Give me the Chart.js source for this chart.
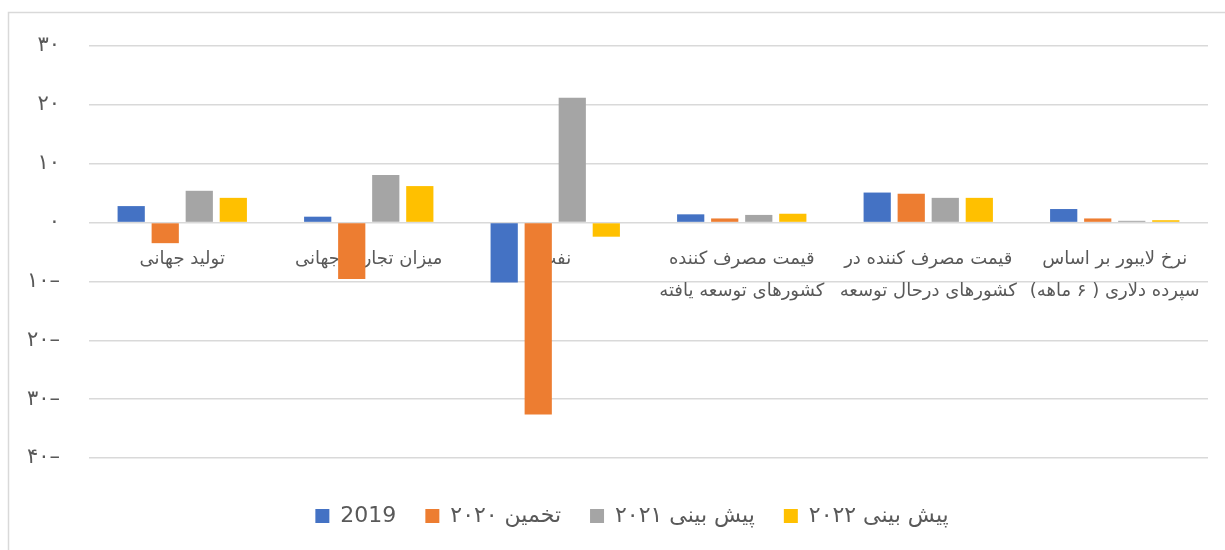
<!DOCTYPE html>
<html>
<head>
<meta charset="utf-8">
<script src="https://cdn.jsdelivr.net/npm/chart.js@4.4.1/dist/chart.umd.min.js"></script>
<style>
  html, body { margin: 0; padding: 0; background: #fff; }
  #wrap { width: 1225px; height: 550px; }
  #chart { direction: rtl; }
</style>
</head>
<body>
<div id="wrap"><canvas id="chart" width="1225" height="550"></canvas></div>
<script>
const categories = [
    'تولید جهانی',
    'میزان تجارت جهانی',
    'نفت',
    ['قیمت مصرف کننده', 'کشورهای توسعه یافته'],
    ['قیمت مصرف کننده در', 'کشورهای درحال توسعه'],
    ['نرخ لایبور بر اساس', 'سپرده دلاری ( ۶ ماهه)']
];
const seriesNames = ['2019', 'تخمین ۲۰۲۰', 'پیش بینی ۲۰۲۱', 'پیش بینی ۲۰۲۲'];
const values2019 = [2.8, 1.0, -10.2, 1.4, 5.1, 2.3];
const values2020 = [-3.5, -9.6, -32.6, 0.7, 4.9, 0.7];
const values2021 = [5.4, 8.1, 21.2, 1.3, 4.2, 0.3];
const values2022 = [4.2, 6.2, -2.4, 1.5, 4.2, 0.4];
const yTicks = [30, 20, 10, 0, -10, -20, -30, -40];

const colors = ['#4472C4', '#ED7D31', '#A5A5A5', '#FFC000'];
const textColor = '#595959';
const fontFamily = '"DejaVu Sans", sans-serif';

// persian digits; canvas is rtl so the minus ends up on the right
function toFa(n) {
    const d = '۰۱۲۳۴۵۶۷۸۹';
    const s = String(Math.abs(n)).replace(/[0-9]/g, c => d[c]);
    return n < 0 ? '–' + s : s;
}

const frame = {
    id: 'frame',
    afterLayout(chart) {
        // legend is centred on the plot, not on the whole canvas
        chart.legend.left += 56;
    },
    beforeDraw(chart) {
        const ctx = chart.ctx;
        ctx.save();
        ctx.fillStyle = '#fff';
        ctx.fillRect(0, 0, chart.width, chart.height);
        ctx.strokeStyle = '#d9d9d9';
        ctx.lineWidth = 1.5;
        ctx.strokeRect(8.5, 12.5, chart.width + 20, chart.height + 20);
        ctx.restore();
    }
};

const allValues = [values2019, values2020, values2021, values2022];

new Chart(document.getElementById('chart'), {
    type: 'bar',
    data: {
        labels: categories,
        datasets: seriesNames.map((name, i) => ({
            label: name,
            data: allValues[i],
            backgroundColor: colors[i],
            borderWidth: 0,
            categoryPercentage: 0.73,
            barPercentage: 0.8
        }))
    },
    options: {
        responsive: false,
        animation: false,
        layout: { padding: { top: 46, right: 17, left: 0, bottom: 13 } },
        scales: {
            y: {
                min: -40,
                max: 30,
                afterFit(scale) { scale.width = 89; },
                afterBuildTicks(scale) { scale.ticks = yTicks.map(v => ({ value: v })); },
                grid: { color: '#d9d9d9', lineWidth: 1.5, drawTicks: false },
                border: { display: false },
                ticks: {
                    padding: 29,
                    color: textColor,
                    font: { family: fontFamily, size: 21 },
                    callback: v => toFa(v)
                }
            },
            x: {
                position: { y: 0 },
                grid: { display: false, drawTicks: false },
                border: { display: false },
                ticks: {
                    padding: 21,
                    autoSkip: false,
                    maxRotation: 0,
                    color: textColor,
                    font: { family: fontFamily, size: 18, lineHeight: 1.76 }
                }
            },
            x2: {
                position: 'bottom',
                afterFit(scale) { scale.height = 18; },
                grid: { display: false, drawTicks: false },
                border: { display: false },
                ticks: { display: false }
            }
        },
        plugins: {
            tooltip: { enabled: false },
            legend: {
                position: 'bottom',
                maxHeight: 75,
                labels: {
                    boxWidth: 14,
                    boxHeight: 14,
                    padding: 29,
                    color: textColor,
                    font: { family: fontFamily, size: 22 }
                }
            }
        }
    },
    plugins: [frame]
});
</script>
</body>
</html>
